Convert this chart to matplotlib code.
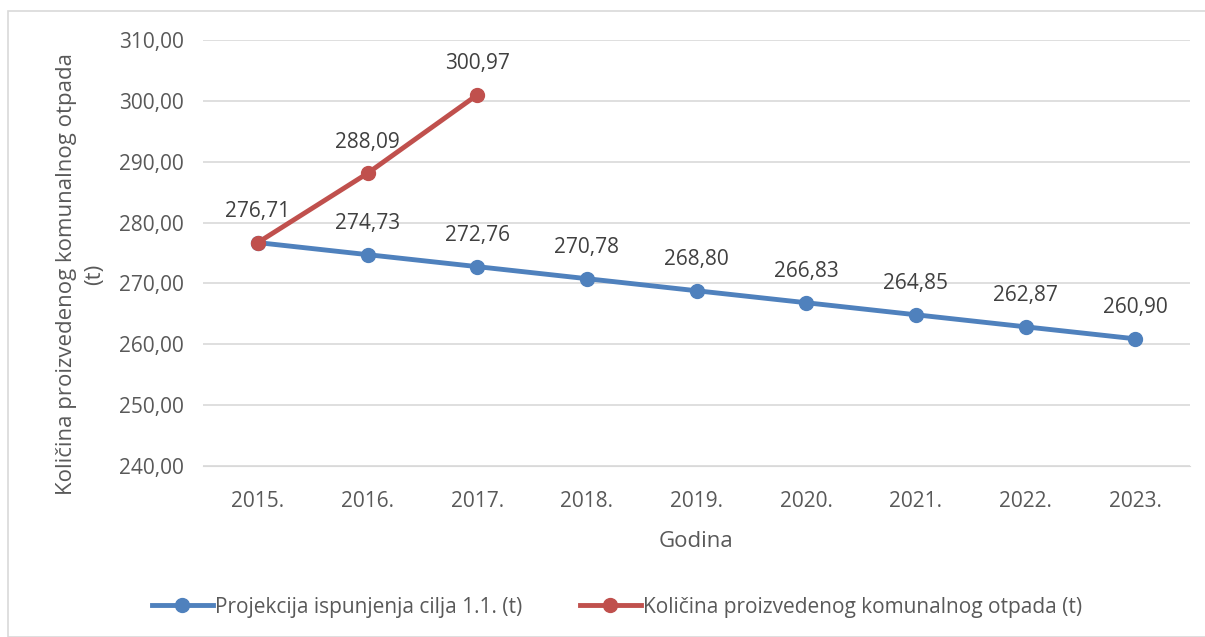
import matplotlib
matplotlib.use("Agg")
import matplotlib.pyplot as plt
from matplotlib.lines import Line2D
from matplotlib.patches import Rectangle

years = ["2015.", "2016.", "2017.", "2018.", "2019.", "2020.", "2021.", "2022.", "2023."]
projection = [276.71, 274.73, 272.76, 270.78, 268.80, 266.83, 264.85, 262.87, 260.90]
actual = [276.71, 288.09, 300.97]
yticks = [240, 250, 260, 270, 280, 290, 300, 310]

blue = "#4F81BD"
red = "#C0504D"
txt = "#595959"
lbl = "#404040"

plt.rcParams['font.family'] = ['Open Sans', 'DejaVu Sans']

W, H = 1205, 637
fig = plt.figure(figsize=(W / 100, H / 100), dpi=100)
fig.patches.append(Rectangle((8 / W, 0), 1.2, (H - 11) / H, transform=fig.transFigure,
                             fill=False, edgecolor="#D9D9D9", linewidth=1.2))

ax = fig.add_axes([203 / W, 1 - 466 / H, (1190 - 203) / W, (466 - 40) / H])
x = list(range(len(years)))
ax.plot(x, projection, color=blue, linewidth=3.5, marker="o", markersize=10, zorder=3)
ax.plot(x[:len(actual)], actual, color=red, linewidth=3.5, marker="o", markersize=10, zorder=4)

for i, v in enumerate(projection):
    if i == 0:
        continue
    ax.annotate(f"{v:.2f}".replace(".", ","), (i, v), xytext=(0, 15), textcoords="offset points",
                ha="center", va="bottom", fontsize=15, color=lbl)
for i, v in enumerate(actual):
    ax.annotate(f"{v:.2f}".replace(".", ","), (i, v), xytext=(0, 15), textcoords="offset points",
                ha="center", va="bottom", fontsize=15, color=lbl)

ax.set_xlim(-0.5, len(years) - 0.5)
ax.set_ylim(240, 310)
ax.set_yticks(yticks)
ax.set_yticklabels([f"{t:.2f}".replace(".", ",") for t in yticks])
ax.set_xticks(x)
ax.set_xticklabels(years)
ax.tick_params(axis="both", length=0, labelsize=15, labelcolor=txt)
ax.tick_params(axis="y", pad=14)
ax.tick_params(axis="x", pad=18)
ax.grid(axis="y", color="#D9D9D9", linewidth=1.2)
ax.set_axisbelow(True)
for s in ax.spines.values():
    s.set_visible(False)
ax.spines["bottom"].set_visible(True)
ax.spines["bottom"].set_color("#D9D9D9")

ax.set_xlabel("Godina", fontsize=16, color=txt, labelpad=14)
ax.set_ylabel("Količina proizvedenog komunalnog otpada\n(t)", fontsize=16, color=txt,
              linespacing=1.45)
ax.yaxis.set_label_coords(-0.099, 0.45)

handles = [Line2D([], [], color=blue, linewidth=3.5, marker="o", markersize=10),
           Line2D([], [], color=red, linewidth=3.5, marker="o", markersize=10)]
fig.legend(handles, ["Projekcija ispunjenja cilja 1.1. (t)", "Količina proizvedenog komunalnog otpada (t)"],
           loc="center", bbox_to_anchor=(617 / W, 1 - 607 / H), ncol=2, frameon=False,
           fontsize=15, labelcolor=txt, handlelength=2.9, handletextpad=0.1, columnspacing=2.8)

fig.savefig("out.png", dpi=100)
